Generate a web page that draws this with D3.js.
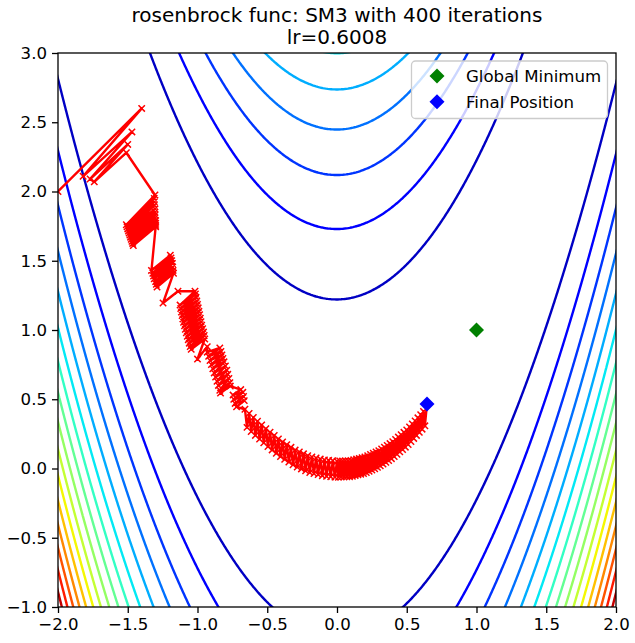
<!DOCTYPE html>
<html><head><meta charset="utf-8">
<script src="https://cdn.jsdelivr.net/npm/d3@7"></script>
<style>body{margin:0;background:#fff} text{font-family:"DejaVu Sans",sans-serif}</style>
</head><body><svg id="chart" width="635" height="643"></svg>
<script>
// ---------- data ----------
const titleLines = ["rosenbrock func: SM3 with 400 iterations", "lr=0.6008"];
const xTicks = [-2.0, -1.5, -1.0, -0.5, 0.0, 0.5, 1.0, 1.5, 2.0];
const yTicks = [-1.0, -0.5, 0.0, 0.5, 1.0, 1.5, 2.0, 2.5, 3.0];
const xDomain = [-2, 2];
const yDomain = [-1, 3];
const contourLevels = [150, 300, 450, 600, 750, 900, 1050, 1200, 1350, 1500, 1650, 1800, 1950, 2100, 2250, 2400];
const colorRange = [0, 2550];
const globalMinimum = [1, 1];
const legendLabels = ["Global Minimum", "Final Position"];
const trajectory = [
 [-2.00,2.00],[-1.40,2.60],[-1.82,2.11],[-1.47,2.43],[-1.77,2.09],[-1.50,2.34],[-1.74,2.07],[-1.51,2.28],[-1.305,1.975],
 [-1.51,1.76],[-1.31,1.95],[-1.505,1.745],[-1.31,1.925],[-1.50,1.73],[-1.31,1.90],[-1.495,1.715],[-1.305,1.875],[-1.49,1.70],[-1.305,1.85],[-1.485,1.685],[-1.305,1.83],[-1.48,1.67],[-1.305,1.81],[-1.475,1.655],[-1.30,1.79],[-1.47,1.64],[-1.30,1.77],[-1.465,1.625],[-1.30,1.755],[-1.46,1.61],[-1.30,1.745],
 [-1.33,1.43],[-1.195,1.54],[-1.32,1.41],[-1.19,1.52],[-1.315,1.39],[-1.185,1.50],[-1.31,1.37],[-1.18,1.48],[-1.30,1.35],[-1.178,1.455],[-1.295,1.33],[-1.175,1.43],[-1.29,1.31],[-1.172,1.41],
 [-1.247,1.195],[-1.14,1.28],[-1.018,1.28],
 [-1.125,1.18],[-1.015,1.26],[-1.12,1.155],[-1.01,1.235],[-1.115,1.13],[-1.005,1.21],[-1.11,1.105],[-1.0,1.185],[-1.105,1.08],[-0.995,1.16],[-1.10,1.055],[-0.99,1.135],[-1.093,1.03],[-0.985,1.11],[-1.087,1.005],[-0.98,1.085],[-1.08,0.98],[-0.975,1.06],[-1.073,0.955],[-0.97,1.035],[-1.066,0.93],[-0.963,1.01],[-1.059,0.905],[-0.957,0.985],[-1.052,0.88],[-0.952,0.96],[-1.045,0.86],[-0.948,0.935],
 [-1.0,0.79],[-0.93,0.88],
 [-0.93,0.84],[-0.84,0.87],[-0.92,0.81],[-0.832,0.845],[-0.91,0.78],[-0.825,0.82],[-0.90,0.75],[-0.818,0.795],[-0.89,0.72],[-0.81,0.77],[-0.88,0.69],[-0.80,0.74],[-0.87,0.66],[-0.79,0.71],[-0.86,0.63],[-0.783,0.68],[-0.85,0.60],[-0.775,0.65],[-0.84,0.565],[-0.768,0.62],[-0.835,0.545],[-0.765,0.595],
 [-0.69,0.57],[-0.745,0.53],[-0.675,0.55],[-0.74,0.50],[-0.67,0.52],[-0.73,0.47],[-0.665,0.49],[-0.72,0.445],
 [-0.660,0.428],[-0.645,0.297],[-0.630,0.398],[-0.615,0.267],[-0.600,0.368],[-0.585,0.239],[-0.570,0.341],[-0.555,0.212],[-0.540,0.314],[-0.525,0.185],[-0.510,0.287],[-0.495,0.158],[-0.480,0.262],[-0.465,0.134],[-0.450,0.238],[-0.435,0.110],[-0.420,0.214],[-0.405,0.086],[-0.390,0.192],[-0.375,0.066],[-0.360,0.172],[-0.345,0.047],[-0.330,0.153],[-0.315,0.027],[-0.300,0.133],[-0.285,0.010],[-0.270,0.120],[-0.255,-0.003],[-0.240,0.106],[-0.225,-0.017],[-0.210,0.093],[-0.195,-0.029],[-0.180,0.083],[-0.165,-0.037],[-0.150,0.076],[-0.135,-0.044],[-0.120,0.068],[-0.105,-0.052],[-0.090,0.062],[-0.075,-0.056],[-0.060,0.059],[-0.045,-0.059],[-0.030,0.056],[-0.015,-0.062],[0.000,0.053],
 [0.01,-0.063],[0.02,0.054],[0.03,-0.062],[0.04,0.055],[0.05,-0.061],[0.06,0.056],[0.07,-0.060],[0.08,0.057],[0.09,-0.059],[0.10,0.058],[0.11,-0.056],[0.12,0.063],[0.13,-0.051],[0.14,0.068],[0.15,-0.046],[0.16,0.073],[0.17,-0.041],[0.18,0.078],[0.19,-0.036],[0.20,0.083],[0.21,-0.029],[0.22,0.092],[0.23,-0.020],[0.24,0.101],[0.25,-0.011],[0.26,0.110],[0.27,-0.002],[0.28,0.119],[0.29,0.008],[0.30,0.128],[0.31,0.019],[0.32,0.141],[0.33,0.032],[0.34,0.154],[0.35,0.045],[0.36,0.167],[0.37,0.058],[0.38,0.180],[0.39,0.071],[0.40,0.193],[0.41,0.086],[0.42,0.210],[0.43,0.103],[0.44,0.227],[0.45,0.120],[0.46,0.244],[0.47,0.137],[0.48,0.261],[0.49,0.154],[0.50,0.278],[0.51,0.173],[0.52,0.300],[0.53,0.195],[0.54,0.322],[0.55,0.217],[0.56,0.344],[0.57,0.239],[0.58,0.366],[0.59,0.261],[0.60,0.388],[0.61,0.284],[0.62,0.412],[0.63,0.308],[0.645,0.466]
];

// ---------- layout ----------
const svg = d3.select("#chart");
const plot = {left: 58, right: 616, top: 53, bottom: 607};
const x = d3.scaleLinear().domain(xDomain).range([plot.left, plot.right]);
const y = d3.scaleLinear().domain(yDomain).range([plot.bottom, plot.top]);

// jet colormap (matplotlib segment data)
const jetR = d3.scaleLinear().domain([0, 0.35, 0.66, 0.89, 1]).range([0, 0, 1, 1, 0.5]).clamp(true);
const jetG = d3.scaleLinear().domain([0, 0.125, 0.375, 0.64, 0.91, 1]).range([0, 0, 1, 1, 0, 0]).clamp(true);
const jetB = d3.scaleLinear().domain([0, 0.11, 0.34, 0.65, 1]).range([0.5, 1, 1, 0, 0]).clamp(true);
const norm = d3.scaleLinear().domain(colorRange).range([0, 1]);
const jet = v => { const t = norm(v); return d3.rgb(jetR(t) * 255, jetG(t) * 255, jetB(t) * 255).toString(); };

svg.append("defs").append("clipPath").attr("id", "clip")
  .append("rect").attr("x", plot.left).attr("y", plot.top)
  .attr("width", plot.right - plot.left).attr("height", plot.bottom - plot.top);

// ---------- contours of the Rosenbrock function ----------
const rosen = (a, b) => (1 - a) * (1 - a) + 100 * (b - a * a) * (b - a * a);
const gx0 = -2.4, gx1 = 2.4, gy0 = -1.4, gy1 = 3.4, nx = 400, ny = 400;
const sx = (gx1 - gx0) / (nx - 1), sy = (gy1 - gy0) / (ny - 1);
const grid = new Float64Array(nx * ny);
for (let j = 0; j < ny; j++) for (let i = 0; i < nx; i++) grid[j * nx + i] = rosen(gx0 + i * sx, gy0 + j * sy);
const contours = d3.contours().size([nx, ny]).thresholds(contourLevels)(grid);
const proj = d3.geoTransform({point(px, py) {
  this.stream.point(x(gx0 + (px - 0.5) * sx), y(gy0 + (py - 0.5) * sy));
}});
const gpath = d3.geoPath(proj);
svg.append("g").attr("clip-path", "url(#clip)")
  .selectAll("path").data(contours).join("path")
  .attr("d", gpath).attr("fill", "none")
  .attr("stroke", d => jet(d.value)).attr("stroke-width", 2.4)
  .attr("stroke-linejoin", "round");

// ---------- trajectory ----------
const gTraj = svg.append("g").attr("clip-path", "url(#clip)");
gTraj.append("path").datum(trajectory)
  .attr("d", d3.line().x(d => x(d[0])).y(d => y(d[1])))
  .attr("fill", "none").attr("stroke", "#ff0000").attr("stroke-width", 2.4).attr("stroke-linejoin", "round");
const ms = 3.2;
gTraj.append("path")
  .attr("d", trajectory.map(d => {
    const px = x(d[0]), py = y(d[1]);
    return `M${px - ms},${py - ms}L${px + ms},${py + ms}M${px - ms},${py + ms}L${px + ms},${py - ms}`;
  }).join(""))
  .attr("fill", "none").attr("stroke", "#ff0000").attr("stroke-width", 1.5);

// diamonds
const diamond = (cx, cy, r) => `M${cx},${cy - r}L${cx + r},${cy}L${cx},${cy + r}L${cx - r},${cy}Z`;
const finalPos = trajectory[trajectory.length - 1];
svg.append("path").attr("d", diamond(x(globalMinimum[0]), y(globalMinimum[1]), 7.5)).attr("fill", "#008000");
svg.append("path").attr("d", diamond(x(finalPos[0]), y(finalPos[1]), 7.5)).attr("fill", "#0000ff");

// ---------- axes ----------
const fmt = d3.format(".1f");
const xAxis = svg.append("g").attr("transform", `translate(0,${plot.bottom})`)
  .call(d3.axisBottom(x).tickValues(xTicks).tickFormat(fmt).tickSize(6).tickPadding(5));
const yAxis = svg.append("g").attr("transform", `translate(${plot.left},0)`)
  .call(d3.axisLeft(y).tickValues(yTicks).tickFormat(fmt).tickSize(6).tickPadding(5));
[xAxis, yAxis].forEach(a => {
  a.select(".domain").remove();
  a.selectAll(".tick line").attr("stroke", "#000").attr("stroke-width", 1.3);
  a.selectAll(".tick text").attr("fill", "#000").style("font-size", "16.6px").style("font-family", "DejaVu Sans");
});
xAxis.selectAll(".tick text").attr("dy", "0.75em");
svg.append("rect").attr("x", plot.left).attr("y", plot.top)
  .attr("width", plot.right - plot.left).attr("height", plot.bottom - plot.top)
  .attr("fill", "none").attr("stroke", "#000").attr("stroke-width", 1.3);

// ---------- title ----------
svg.append("g").selectAll("text").data(titleLines).join("text")
  .attr("x", (plot.left + plot.right) / 2).attr("y", (d, i) => 22 + i * 22)
  .attr("text-anchor", "middle").style("font-size", "20px").attr("fill", "#000").text(d => d);

// ---------- legend ----------
const lg = svg.append("g");
lg.append("rect").attr("x", 411.5).attr("y", 61).attr("width", 196).attr("height", 57.5)
  .attr("rx", 4).attr("fill", "#fff").attr("fill-opacity", 0.8).attr("stroke", "#cccccc").attr("stroke-width", 1.3);
const legendColors = ["#008000", "#0000ff"];
legendLabels.forEach((lab, i) => {
  const cy = 76 + i * 25.7;
  lg.append("path").attr("d", diamond(437, cy, 7.5)).attr("fill", legendColors[i]);
  lg.append("text").attr("x", 466).attr("y", cy + 6).style("font-size", "16.6px").attr("fill", "#000").text(lab);
});
</script></body></html>
